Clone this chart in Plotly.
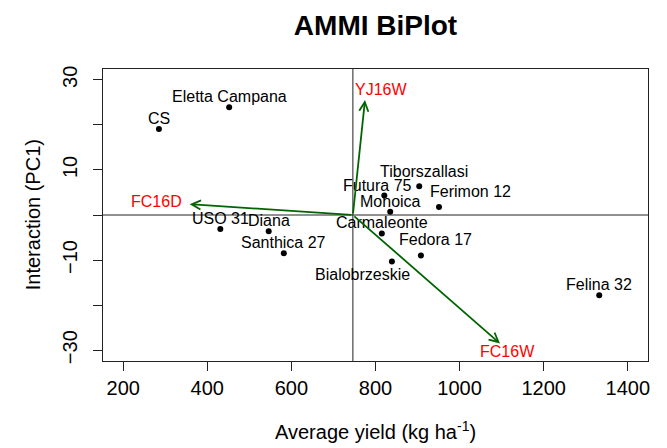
import numpy as np
import plotly.graph_objects as go

# ---------------- data ----------------
genotypes = ["CS", "Eletta Campana", "USO 31", "Diana", "Santhica 27",
             "Tiborszallasi", "Futura 75", "Monoica", "Ferimon 12",
             "Carmaleonte", "Fedora 17", "Bialobrzeskie", "Felina 32"]
gen_yield = [285, 452, 431, 546, 582, 904, 821, 835, 951, 815, 908, 839, 1332]
gen_pc1 = [19.1, 23.9, -3.1, -3.6, -8.5, 6.4, 4.3, 0.7, 1.8, -4.1, -9.0, -10.3, -17.8]

environments = ["YJ16W", "FC16D", "FC16W"]
env_yield = [775, 358, 1096]
env_pc1 = [25.5, 2.4, -28.5]

x_tickvals = [200, 400, 600, 800, 1000, 1200, 1400]
y_tickvals = [-30, -20, -10, 0, 10, 20, 30]
y_ticktext = ["\u221230", "", "\u221210", "", "10", "", "30"]

# ---------------- styles ----------------
FONT = "Liberation Sans, Arial, Helvetica, sans-serif"
AXIS_COLOR = "#222222"
ARROW_COLOR = "#006400"
# label offsets in pixels (xshift, yshift) relative to each point
gen_label_shift = {
    "Futura 75": (-7, 10.5),
    "Tiborszallasi": (4.5, 14.5),
    "Ferimon 12": (31, 15),
    "Fedora 17": (15, 15.8),
    "Bialobrzeskie": (-29, -13),
}
default_shift = (0, 10.5)
env_label_style = {
    "YJ16W": dict(xshift=16, yshift=11, xanchor="center"),
    "FC16D": dict(xshift=-6, yshift=2.6, xanchor="right"),
    "FC16W": dict(xshift=8, yshift=-8, xanchor="center"),
}

grand_mean = float(np.mean(gen_yield))

fig = go.Figure()

fig.add_trace(go.Scatter(
    x=gen_yield, y=gen_pc1, mode="markers",
    marker=dict(color="black", size=6),
    hoverinfo="skip", showlegend=False,
))

annotations = []
# genotype labels
for name, gx, gy in zip(genotypes, gen_yield, gen_pc1):
    dx, dy = gen_label_shift.get(name, default_shift)
    annotations.append(dict(
        x=gx, y=gy, xref="x", yref="y", text=name, showarrow=False,
        xanchor="center", yanchor="middle", xshift=dx, yshift=dy,
        font=dict(family=FONT, size=16, color="black"),
    ))

# environment arrows and labels
for name, ex, ey in zip(environments, env_yield, env_pc1):
    annotations.append(dict(
        x=ex, y=ey, xref="x", yref="y", ax=grand_mean, ay=0,
        axref="x", ayref="y", text="", showarrow=True,
        arrowhead=5, arrowsize=1.0, arrowwidth=1.8, arrowcolor=ARROW_COLOR,
        standoff=0, startstandoff=0,
    ))
    st = env_label_style[name]
    annotations.append(dict(
        x=ex, y=ey, xref="x", yref="y", text=name, showarrow=False,
        yanchor="middle", font=dict(family=FONT, size=16, color="red"), **st,
    ))

# axis titles
annotations.append(dict(
    x=0.5, y=-0.238, xref="paper", yref="paper",
    text="Average yield (kg ha<sup>-1</sup>)", showarrow=False,
    xanchor="center", yanchor="middle",
    font=dict(family=FONT, size=20, color="black"),
))
annotations.append(dict(
    x=-0.128, y=0.5, xref="paper", yref="paper",
    text="Interaction (PC1)", showarrow=False, textangle=-90,
    xanchor="center", yanchor="middle",
    font=dict(family=FONT, size=20, color="black"),
))

shapes = [
    dict(type="line", xref="x", yref="paper", x0=grand_mean, x1=grand_mean,
         y0=0, y1=1, line=dict(color=AXIS_COLOR, width=1), layer="below"),
    dict(type="line", xref="paper", yref="y", x0=0, x1=1, y0=0, y1=0,
         line=dict(color=AXIS_COLOR, width=1), layer="below"),
]

fig.update_layout(
    width=667, height=448,
    margin=dict(l=103, r=19, t=69, b=87),
    paper_bgcolor="white", plot_bgcolor="white",
    font=dict(family=FONT, color="black"),
    title=dict(text="<b>AMMI BiPlot</b>", x=0.5, xref="paper", xanchor="center",
               y=1 - 25 / 448, yref="container", yanchor="middle",
               font=dict(family=FONT, size=28, color="black")),
    annotations=annotations,
    shapes=shapes,
    showlegend=False,
)

fig.update_xaxes(
    range=[152, 1448], tickvals=x_tickvals, ticks="outside", ticklen=9,
    tickcolor=AXIS_COLOR, tickwidth=1, showline=True, linecolor=AXIS_COLOR,
    linewidth=1, mirror=True, showgrid=False, zeroline=False,
    tickfont=dict(family=FONT, size=20, color="black"), ticklabelstandoff=0,
)
fig.update_yaxes(
    range=[-32.4, 32.4], tickvals=y_tickvals, ticktext=y_ticktext,
    ticks="outside", ticklen=9, tickangle=-90,
    tickcolor=AXIS_COLOR, tickwidth=1, showline=True, linecolor=AXIS_COLOR,
    linewidth=1, mirror=True, showgrid=False, zeroline=False,
    tickfont=dict(family=FONT, size=20, color="black"), ticklabelstandoff=8,
)

fig.write_html("out.html")
